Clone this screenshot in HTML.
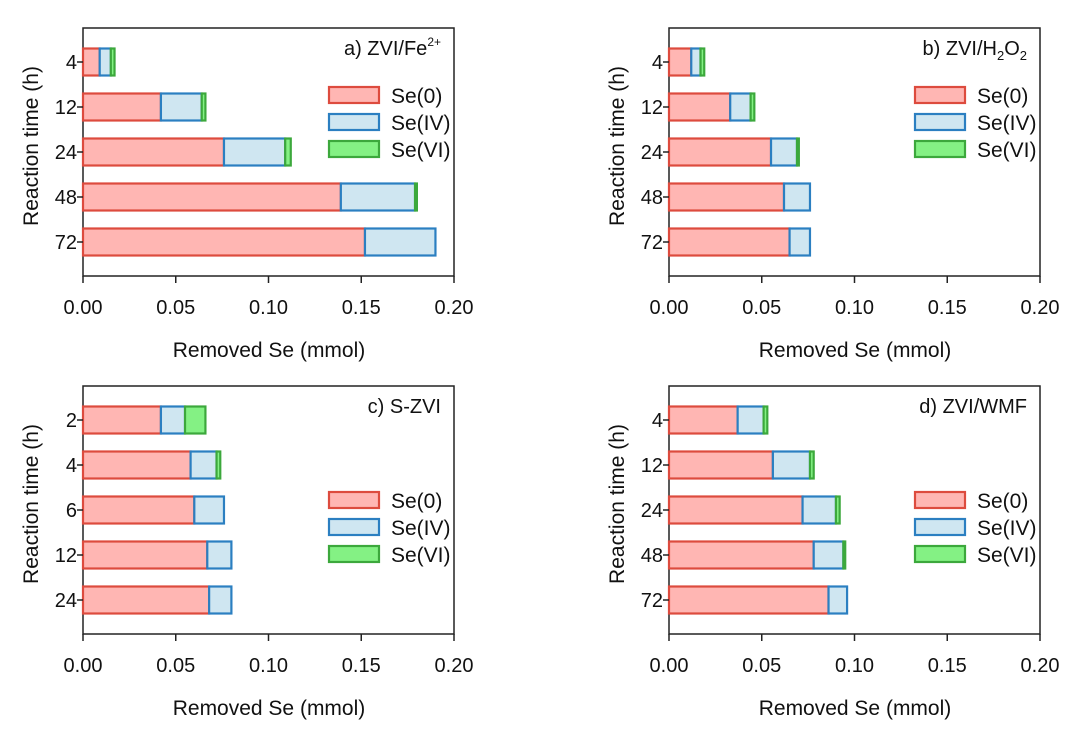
<!DOCTYPE html>
<html><head><meta charset="utf-8"><style>
body{margin:0;background:#fff}
svg text{font-family:"Liberation Sans",Arial,sans-serif;fill:#111}
</style></head><body>
<svg id="c" width="1080" height="730" xmlns="http://www.w3.org/2000/svg"></svg>
<script>
const catsA=["4","12","24","48","72"], catsB=["4","12","24","48","72"], catsC=["2","4","6","12","24"], catsD=["4","12","24","48","72"];
const se0A=[0.009,0.042,0.076,0.139,0.152], seIVA=[0.006,0.022,0.033,0.040,0.038], seVIA=[0.002,0.002,0.003,0.001,0];
const se0B=[0.012,0.033,0.055,0.062,0.065], seIVB=[0.005,0.011,0.014,0.014,0.011], seVIB=[0.002,0.002,0.001,0,0];
const se0C=[0.042,0.058,0.060,0.067,0.068], seIVC=[0.013,0.014,0.016,0.013,0.012], seVIC=[0.011,0.002,0,0,0];
const se0D=[0.037,0.056,0.072,0.078,0.086], seIVD=[0.014,0.020,0.018,0.016,0.010], seVID=[0.002,0.002,0.002,0.001,0];
const xTicks=["0.00","0.05","0.10","0.15","0.20"];
const svg=document.getElementById('c');
const NS="http://www.w3.org/2000/svg";
function mk(t,a,p){const e=document.createElementNS(NS,t);for(const k in a)e.setAttribute(k,a[k]);(p||svg).appendChild(e);return e;}
const cols=[["#ffb6b3","#dd4b3e"],["#cfe6f1","#2b7fc1"],["#84f184","#3ca83c"]];
const names=["Se(0)","Se(IV)","Se(VI)"];
function panel(id,ox,oy,cats,s0,s4,s6,title,legY){
  const g=mk('g',{});
  
  
  const L=ox,R=ox+371,T=oy,B=oy+248;
  const xs=v=>L+v/0.2*371;
  const yc=i=>T+34+i*45;
  const frame=mk('rect',{x:L,y:T,width:R-L,height:B-T,fill:'none',stroke:'#222','stroke-width':1.5},g);
  
  
  cats.forEach((c,i)=>{
    const y=yc(i);
    let acc=0;
    [s0[i],s4[i],s6[i]].forEach((v,k)=>{
      if(v<=0)return;
      const r=mk('rect',{x:xs(acc),y:y-13.5,width:xs(acc+v)-xs(acc),height:27,fill:cols[k][0],stroke:cols[k][1],'stroke-width':2.2},g);
      
      
      acc+=v;
    });
    mk('line',{x1:L-6,x2:L,y1:y,y2:y,stroke:'#222','stroke-width':1.5},g);
    const t=mk('text',{x:L-6,y:y+7,'text-anchor':'end','font-size':20},g);t.textContent=c;
    
    
  });
  xTicks.forEach((s,i)=>{
    const x=xs(parseFloat(s));
    mk('line',{x1:x,x2:x,y1:B,y2:B+7,stroke:'#222','stroke-width':1.5},g);
    const t=mk('text',{x:x,y:B+38,'text-anchor':'middle','font-size':20},g);t.textContent=s;
    
    
  });
  const xt=mk('text',{x:L+186,y:B+81,'text-anchor':'middle','font-size':21},g);xt.textContent="Removed Se (mmol)";
  
  
  const yt=mk('text',{x:0,y:0,'text-anchor':'middle','font-size':21,transform:`translate(${L-45},${T+118}) rotate(-90)`},g);yt.textContent="Reaction time (h)";
  
  
  const tt=mk('text',{x:L+358,y:T+27,'text-anchor':'end','font-size':20},g);tt.innerHTML=title;
  
  
  names.forEach((n,k)=>{
    const y=legY+k*27;
    const r=mk('rect',{x:L+246,y:y-8,width:50,height:16,fill:cols[k][0],stroke:cols[k][1],'stroke-width':2.2},g);
    
    
    const t=mk('text',{x:L+308,y:y+8,'font-size':21},g);t.textContent=n;
    
    
  });
}
panel('a',83,28,catsA,se0A,seIVA,seVIA,'a) ZVI/Fe<tspan dy="-9" font-size="12">2+</tspan>',95);
panel('b',669,28,catsB,se0B,seIVB,seVIB,'b) ZVI/H<tspan dy="5" font-size="13">2</tspan><tspan dy="-5">O</tspan><tspan dy="5" font-size="13">2</tspan>',95);
panel('c',83,386,catsC,se0C,seIVC,seVIC,'c) S-ZVI',500);
panel('d',669,386,catsD,se0D,seIVD,seVID,'d) ZVI/WMF',500);
</script>
</body></html>
